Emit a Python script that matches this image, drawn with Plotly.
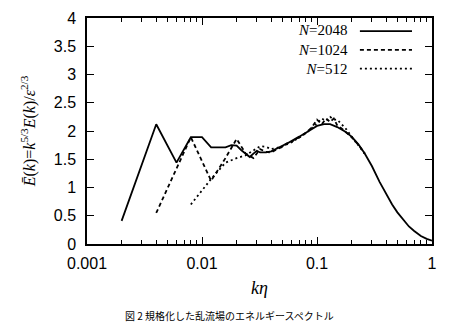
import plotly.graph_objects as go

# ---- data ----
series_names = ["2048", "1024", "512"]

k_2048 = [0.002, 0.004, 0.006, 0.008, 0.010, 0.012, 0.014, 0.016, 0.018, 0.020,
          0.022, 0.024, 0.026, 0.028, 0.030, 0.032, 0.036, 0.040, 0.045, 0.050,
          0.055, 0.060, 0.065, 0.070, 0.080, 0.090, 0.100, 0.115, 0.130, 0.150,
          0.175, 0.200, 0.230, 0.260, 0.300, 0.350, 0.400, 0.450, 0.500, 0.560,
          0.630, 0.700, 0.800, 0.900, 1.000]
e_2048 = [0.41, 2.12, 1.44, 1.89, 1.89, 1.71, 1.71, 1.71, 1.75, 1.74,
          1.66, 1.60, 1.54, 1.60, 1.65, 1.62, 1.62, 1.64, 1.70, 1.74,
          1.78, 1.82, 1.86, 1.90, 1.97, 2.04, 2.09, 2.12, 2.12, 2.07,
          1.99, 1.90, 1.76, 1.60, 1.38, 1.10, 0.88, 0.70, 0.56, 0.43,
          0.31, 0.23, 0.14, 0.09, 0.06]

k_1024 = [0.004, 0.008, 0.012, 0.016, 0.020, 0.024, 0.028, 0.032, 0.036, 0.040,
          0.045, 0.050, 0.055, 0.060, 0.065, 0.070, 0.080, 0.090, 0.100, 0.110,
          0.120, 0.130, 0.140, 0.150, 0.170, 0.200, 0.230, 0.260]
e_1024 = [0.55, 1.89, 1.12, 1.52, 1.86, 1.60, 1.52, 1.68, 1.63, 1.62,
          1.68, 1.72, 1.78, 1.80, 1.86, 1.88, 1.97, 2.06, 2.20, 2.12,
          2.22, 2.16, 2.22, 2.10, 2.02, 1.89, 1.75, 1.60]

k_512 = [0.008, 0.012, 0.016, 0.020, 0.024, 0.028, 0.032, 0.036, 0.040, 0.045,
         0.050, 0.060, 0.070, 0.080, 0.090, 0.100, 0.110, 0.120, 0.130, 0.140,
         0.150, 0.160, 0.180, 0.200, 0.230, 0.260]
e_512 = [0.70, 1.15, 1.44, 1.52, 1.57, 1.66, 1.73, 1.72, 1.68, 1.70,
         1.73, 1.80, 1.88, 1.96, 2.05, 2.14, 2.22, 2.18, 2.25, 2.20,
         2.20, 2.14, 2.03, 1.90, 1.74, 1.60]

x_tickvals = [0.001, 0.01, 0.1, 1]
x_ticktext = ["0.001", "0.01", "0.1", "1"]
y_tickvals = [0, 0.5, 1, 1.5, 2, 2.5, 3, 3.5, 4]
y_ticktext = ["0", "0.5", "1", "1.5", "2", "2.5", "3", "3.5", "4"]
x_minor = [m * d for d in (0.001, 0.01, 0.1) for m in range(2, 10)]

caption = "図 2 規格化した乱流場のエネルギースペクトル"

# ---- figure ----
dashes = ["solid", "4px,3px", "2px,3px"]
xs = [k_2048, k_1024, k_512]
ys = [e_2048, e_1024, e_512]

fig = go.Figure()
for name, x, y, d in zip(series_names, xs, ys, dashes):
    fig.add_trace(go.Scatter(x=x, y=y, mode="lines", name="N=" + name,
                             line=dict(color="black", width=1.8, dash=d),
                             showlegend=False))

# custom legend (text right-aligned, line sample on the right, like gnuplot)
legend_text = "<br>".join("<i>N</i>=" + n for n in series_names)
fig.add_annotation(xref="paper", yref="paper", x=0.761, y=0.859,
                   xanchor="right", yanchor="middle", align="right",
                   showarrow=False, text=legend_text,
                   font=dict(family="Liberation Serif", size=15, color="black"))
leg_y = [0.942, 0.859, 0.776]
for yy, d in zip(leg_y, dashes):
    fig.add_shape(type="line", xref="paper", yref="paper",
                  x0=0.791, x1=0.942, y0=yy, y1=yy,
                  line=dict(color="black", width=1.8, dash=d))

fig.add_annotation(xref="paper", yref="paper", x=0.414, y=-0.318,
                   xanchor="center", yanchor="middle", showarrow=False,
                   text=caption,
                   font=dict(family="Noto Sans CJK JP", size=10, color="black"))

axis_font = dict(family="Liberation Sans", size=16, color="black")
fig.update_xaxes(type="log", range=[-3, 0], tickvals=x_tickvals, ticktext=x_ticktext,
                 ticks="inside", ticklen=7, tickwidth=1, tickcolor="black",
                 showline=True, linecolor="black", linewidth=1.5, mirror="ticks",
                 showgrid=False, zeroline=False, tickfont=axis_font,
                 ticklabelstandoff=4,
                 minor=dict(tickvals=x_minor, ticks="inside", ticklen=4,
                            tickcolor="black", tickwidth=1, showgrid=False),
                 title=dict(text="<i>kη</i>", standoff=10,
                            font=dict(family="Liberation Serif", size=18, color="black")))
fig.update_yaxes(range=[0, 4], tickvals=y_tickvals, ticktext=y_ticktext,
                 ticks="inside", ticklen=7, tickwidth=1, tickcolor="black",
                 showline=True, linecolor="black", linewidth=1.5, mirror="ticks",
                 showgrid=False, zeroline=False, tickfont=axis_font,
                 ticklabelstandoff=6,
                 title=dict(text="<i>Ē</i>(<i>k</i>)=<i>k</i><sup>5/3</sup><i>E</i>(<i>k</i>)/<i>ε</i><sup>2/3</sup>",
                            standoff=14,
                            font=dict(family="Liberation Serif", size=16, color="black")))

# top axis carrying the mirrored minor ticks
fig.update_layout(xaxis2=dict(type="log", range=[-3, 0], overlaying="x", side="top",
                              matches="x", showticklabels=False, showgrid=False,
                              zeroline=False, tickvals=x_tickvals, ticks="inside",
                              ticklen=7, tickcolor="black",
                              minor=dict(tickvals=x_minor, ticks="inside", ticklen=4,
                                         tickcolor="black", showgrid=False)))
fig.add_trace(go.Scatter(x=[x_tickvals[0]], y=[y_tickvals[0]], xaxis="x2",
                         mode="lines", showlegend=False, hoverinfo="skip",
                         line=dict(color="rgba(0,0,0,0)")))

fig.update_layout(width=450, height=330, autosize=False,
                  margin=dict(l=87, r=18, t=10, b=86),
                  paper_bgcolor="white", plot_bgcolor="white")

fig.write_html("out.html")
